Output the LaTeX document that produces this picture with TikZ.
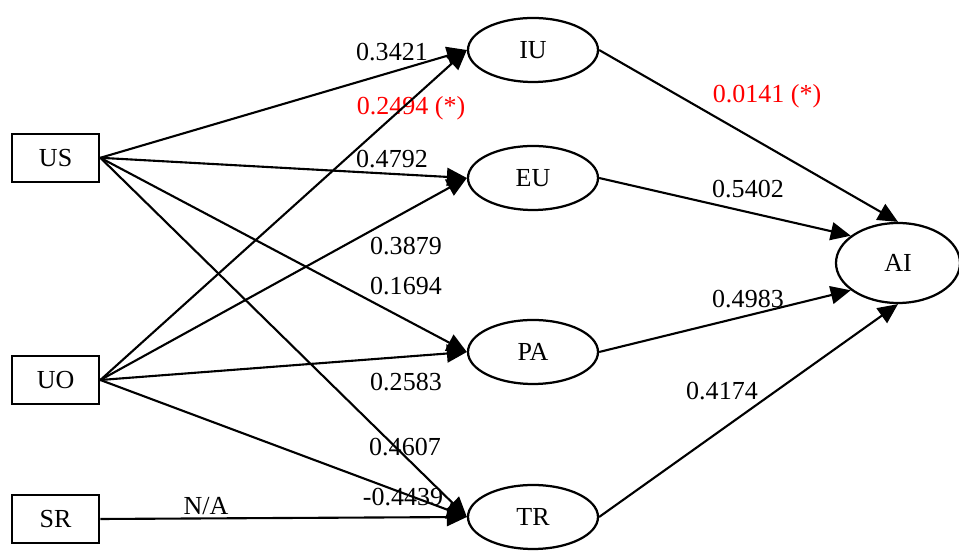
\documentclass[tikz,border=0pt]{standalone}
\usepackage{fontspec}
\setmainfont{Liberation Serif}
\usepackage{tikz}
\usetikzlibrary{shapes.geometric, arrows.meta}
\tikzstyle{varblock} = [draw, line width=1.8pt, minimum width=2.175cm, minimum height=1.2cm, inner sep=0]
\tikzstyle{ellipseblock} = [draw, ellipse, line width=1.6pt, minimum width=3.25cm, minimum height=1.6cm, inner sep=0]
\tikzstyle{weight} = [inner sep=0]
\tikzstyle{sigweight} = [inner sep=0, text=red]

\begin{document}
\begin{tikzpicture}[>={Triangle[length=0.5cm, width=0.45cm]}, font=\fontsize{18.5}{22}\selectfont]
      \useasboundingbox (0, 0) rectangle (23.975, 13.975);

      \node[varblock] (us) at (1.39, 10.03) {US};
      \node[varblock] (uo) at (1.39, 4.475) {UO};
      \node[varblock] (sr) at (1.39, 1.0) {SR};

      \node[ellipseblock] (iu) at (13.325, 12.725) {IU};
      \node[ellipseblock] (eu) at (13.325, 9.525) {EU};
      \node[ellipseblock] (pa) at (13.325, 5.175) {PA};
      \node[ellipseblock] (tr) at (13.325, 1.05) {TR};
      \node[ellipseblock, minimum width=3.1cm, minimum height=2cm] (ai) at (22.45, 7.4) {AI};

      \node[weight] (w3421) at (9.8, 12.675) {0.3421};
      \node[sigweight] (w2494) at (10.275, 11.275) {0.2494 (*)};
      \node[weight] (w4792) at (9.8, 10.0) {0.4792};
      \node[weight] (w3879) at (10.15, 7.825) {0.3879};
      \node[weight] (w1694) at (10.15, 6.825) {0.1694};
      \node[weight] (w2583) at (10.15, 4.425) {0.2583};
      \node[weight] (w4607) at (10.125, 2.8) {0.4607};
      \node[weight] (w4439) at (10.075, 1.55) {-0.4439};
      \node[weight] (wna) at (5.15, 1.325) {N/A};
      \node[sigweight] (w0141) at (19.175, 11.575) {0.0141 (*)};
      \node[weight] (w5402) at (18.7, 9.25) {0.5402};
      \node[weight] (w4983) at (18.7, 6.5) {0.4983};
      \node[weight] (w4174) at (18.05, 4.2) {0.4174};

      \draw[->, line width=1.5pt] (us.east) -- (iu.west);
      \draw[->, line width=1.5pt] (us.east) -- (eu.west);
      \draw[->, line width=1.5pt] (us.east) -- (pa.west);
      \draw[->, line width=1.5pt] (us.east) -- (tr.west);

      \draw[->, line width=1.5pt] (uo.east) -- (iu.west);
      \draw[->, line width=1.5pt] (uo.east) -- (eu.west);
      \draw[->, line width=1.5pt] (uo.east) -- (pa.west);
      \draw[->, line width=1.5pt] (uo.east) -- (tr.west);

      \draw[->, line width=1.5pt] (sr.east) -- (tr.west);

      \draw[->, line width=1.5pt] (iu.east) -- (ai.north);
      \draw[->, line width=1.5pt] (eu.east) -- (ai.150);
      \draw[->, line width=1.5pt] (pa.east) -- (ai.210);
      \draw[->, line width=1.5pt] (tr.east) -- (ai.south);
    \end{tikzpicture}
\end{document}
